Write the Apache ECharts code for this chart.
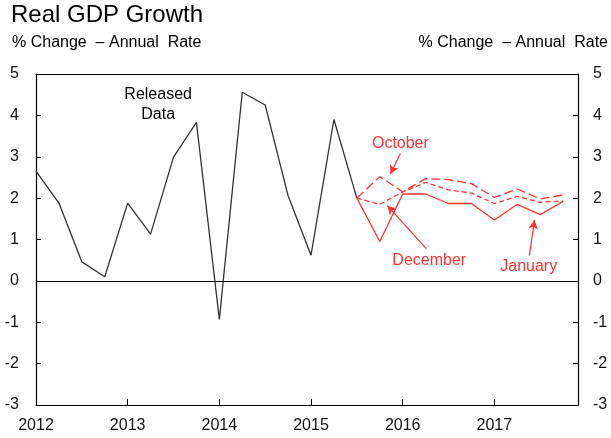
<!DOCTYPE html>
<html>
<head>
<meta charset="utf-8">
<script src="https://cdn.jsdelivr.net/npm/echarts@6/dist/echarts.min.js"></script>
<style>
    html, body { margin: 0; padding: 0; background: #fff; }
    #main-chart { width: 611px; height: 438px; }
</style>
</head>
<body>
<div id="main-chart"></div>
<script>
// quarterly data, index 0 = 2012 Q1
var years = ['2012', '2013', '2014', '2015', '2016', '2017'];
var released = [2.65, 1.88, 0.46, 0.1, 1.88, 1.13, 2.99, 3.83, -0.93, 4.56, 4.25, 2.06, 0.62, 3.9, 2.0];
// forecasts start at 2015 Q3 (index 14)
var forecastStart = 14;
var october = [2.0, 2.52, 2.15, 2.47, 2.45, 2.35, 2.02, 2.22, 1.98, 2.08];
var december = [2.0, 1.85, 2.15, 2.38, 2.2, 2.12, 1.87, 2.04, 1.9, 1.93];
var january = [2.0, 0.95, 2.1, 2.1, 1.87, 1.87, 1.47, 1.85, 1.6, 1.92];

var RED = '#ff3333';
var FONT = 'Liberation Sans';

function toPoints(arr, start) {
    var out = [];
    for (var i in arr) {
        out.push([start + Number(i), arr[i]]);
    }
    return out;
}

function note(text, x, y, color) {
    return {
        coord: [x, y],
        symbol: 'circle',
        symbolSize: 1,
        itemStyle: {color: 'rgba(0,0,0,0)'},
        label: {
            show: true, position: 'inside', formatter: text,
            color: color, fontSize: 16, fontFamily: FONT, lineHeight: 20
        }
    };
}

function arrow(x1, y1, x2, y2) {
    return [{coord: [x1, y1]}, {coord: [x2, y2]}];
}

var myChart = echarts.init(document.getElementById('main-chart'));

var option = {
    animation: false,
    textStyle: {fontFamily: FONT},
    title: [
        {text: 'Real GDP Growth', left: 11, top: 3, padding: 0,
            textStyle: {fontSize: 24, fontWeight: 'normal', color: '#000', fontFamily: FONT}},
        {text: '% Change  – Annual  Rate', left: 12, top: 35, padding: 0,
            textStyle: {fontSize: 16, fontWeight: 'normal', color: '#000', fontFamily: FONT}},
        {text: '% Change  – Annual  Rate', right: 3, top: 35, padding: 0,
            textStyle: {fontSize: 16, fontWeight: 'normal', color: '#000', fontFamily: FONT}}
    ],
    grid: {left: 36, right: 33, top: 74, bottom: 33},
    xAxis: [
        {
            type: 'value', position: 'bottom',
            min: 0, max: 23.65, interval: 4,
            axisLine: {onZero: false, lineStyle: {color: '#000', width: 1.2}},
            axisTick: {inside: true, length: 6, lineStyle: {color: '#000'}},
            axisLabel: {
                margin: 13, fontSize: 16, color: '#111', showMaxLabel: false,
                formatter: function (v) {
                    return v % 4 === 0 ? years[v / 4] : '';
                }
            },
            splitLine: {show: false}
        },
        {
            type: 'value', position: 'top',
            min: 0, max: 23.65,
            axisLine: {onZero: false, lineStyle: {color: '#000', width: 1.2}},
            axisTick: {show: false},
            axisLabel: {show: false},
            splitLine: {show: false}
        }
    ],
    yAxis: [
        {
            type: 'value', position: 'left',
            min: -3, max: 5, interval: 1,
            axisLine: {show: true, onZero: false, lineStyle: {color: '#000', width: 1.2}},
            axisTick: {show: true, inside: true, length: 5, lineStyle: {color: '#000'}},
            axisLabel: {margin: 17, fontSize: 16, color: '#111'},
            splitLine: {show: false}
        },
        {
            type: 'value', position: 'right',
            min: -3, max: 5, interval: 1,
            axisLine: {show: true, onZero: false, lineStyle: {color: '#000', width: 1.2}},
            axisTick: {show: true, inside: true, length: 5, lineStyle: {color: '#000'}},
            axisLabel: {margin: 15, fontSize: 16, color: '#111'},
            splitLine: {show: false}
        }
    ],
    series: [
        {
            name: 'Released Data',
            type: 'line',
            data: toPoints(released, 0),
            symbol: 'none',
            lineStyle: {color: '#333', width: 1.3},
            markLine: {
                silent: true, symbol: 'none', label: {show: false},
                lineStyle: {color: '#000', width: 1.2, type: 'solid'},
                data: [{yAxis: 0}]
            },
            markPoint: {
                silent: true,
                data: [note('Released\nData', 5.33, 4.27, '#000')]
            }
        },
        {
            name: 'October',
            type: 'line',
            data: toPoints(october, forecastStart),
            symbol: 'none',
            lineStyle: {color: RED, width: 1.3, type: [9, 4]}
        },
        {
            name: 'December',
            type: 'line',
            data: toPoints(december, forecastStart),
            symbol: 'none',
            lineStyle: {color: RED, width: 1.3, type: [5, 3]}
        },
        {
            name: 'January',
            type: 'line',
            data: toPoints(january, forecastStart),
            symbol: 'none',
            lineStyle: {color: RED, width: 1.3},
            markLine: {
                silent: true,
                symbol: ['none', 'arrow'], symbolSize: [7, 9],
                label: {show: false},
                lineStyle: {color: RED, width: 1.2, type: 'solid'},
                data: [
                    arrow(15.9, 3.08, 15.46, 2.58),
                    arrow(17.03, 0.78, 15.33, 1.82),
                    arrow(21.53, 0.61, 21.75, 1.47)
                ]
            },
            markPoint: {
                silent: true,
                data: [
                    note('October', 15.9, 3.33, RED),
                    note('December', 17.16, 0.5, RED),
                    note('January', 21.5, 0.35, RED)
                ]
            }
        }
    ]
};
myChart.setOption(option);
</script>
</body>
</html>
